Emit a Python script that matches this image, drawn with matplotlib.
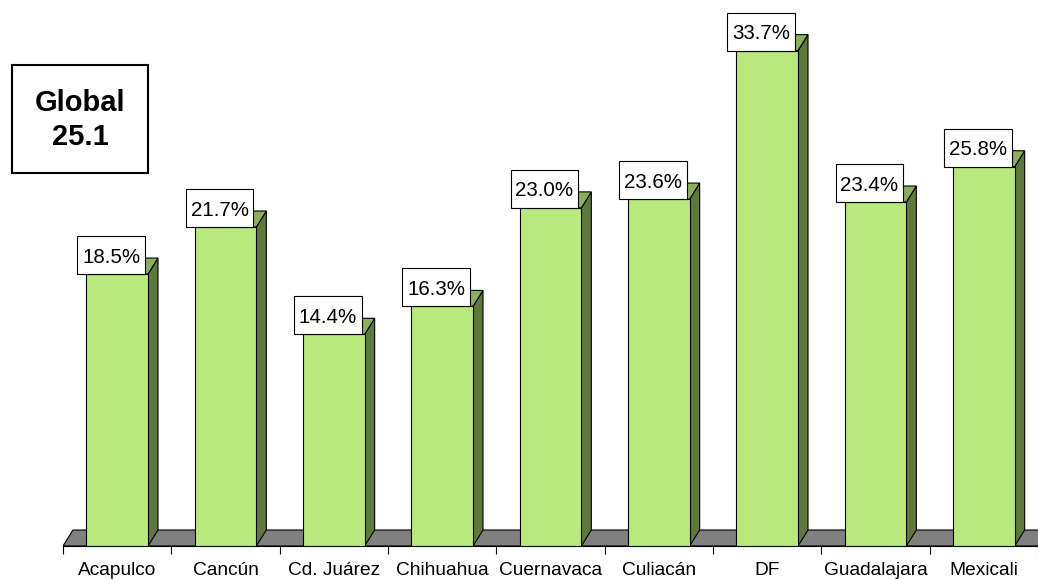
import matplotlib
matplotlib.use("Agg")
import matplotlib.pyplot as plt
from matplotlib.patches import Polygon, Rectangle

plt.rcParams['font.family'] = ['Liberation Sans', 'DejaVu Sans']

cities = ['Acapulco', 'Cancún', 'Cd. Juárez', 'Chihuahua', 'Cuernavaca',
          'Culiacán', 'DF', 'Guadalajara', 'Mexicali']
values = [18.5, 21.7, 14.4, 16.3, 23.0, 23.6, 33.7, 23.4, 25.8]
global_value = 25.1

front = '#B9E97D'
side = '#5E783E'
top = '#8CAF5A'
floor = '#808080'

W, H = 1038, 580
fig = plt.figure(figsize=(W / 100, H / 100), dpi=100)

# axes: left edge at the first boundary tick, bottom at the floor front line
px_cat = 108.8
x0_px, y0_px = 63, 546
xmax = -0.5 + (W - x0_px) / px_cat
ax = fig.add_axes([x0_px / W, 1 - y0_px / H, 1 - x0_px / W, y0_px / H])
px_val = 14.7
ax.set_xlim(-0.5, xmax)
ax.set_ylim(0, y0_px / px_val)

# 3d depth in data units
dx = 10 / px_cat
dy = 16 / px_val
bw = 0.57

ax.add_patch(Polygon([(-0.5, 0), (xmax + 1, 0), (xmax + 1 + dx, dy), (-0.5 + dx, dy)],
                     closed=True, fc=floor, ec='black', lw=0.8, zorder=1))

# label box size (pixels -> data)
lbw, lbh = 68 / px_cat, 38 / px_val
lshift = -6 / px_cat

for i, v in enumerate(values):
    xl, xr = i - bw / 2, i + bw / 2
    ax.add_patch(Polygon([(xr, 0), (xr + dx, dy), (xr + dx, v + dy), (xr, v)],
                         closed=True, fc=side, ec='black', lw=0.8, zorder=2))
    ax.add_patch(Polygon([(xl, v), (xr, v), (xr + dx, v + dy), (xl + dx, v + dy)],
                         closed=True, fc=top, ec='black', lw=0.8, zorder=2))
    ax.bar(i, v, width=bw, color=front, edgecolor='black', linewidth=0.8, zorder=3)
    cx = i + lshift
    ax.add_patch(Rectangle((cx - lbw / 2, v), lbw, lbh, fc='white', ec='black',
                           lw=0.8, zorder=4, clip_on=False))
    ax.text(cx, v + lbh / 2, f'{v:.1f}%', ha='center', va='center_baseline',
            fontsize=14.8, zorder=5)

for s in ['top', 'right', 'left']:
    ax.spines[s].set_visible(False)
ax.spines['bottom'].set_linewidth(0.8)
ax.set_yticks([])
ax.set_xticks(range(len(cities)))
ax.set_xticklabels(cities, fontsize=13.8)
ax.tick_params(axis='x', which='major', length=0, pad=11.5)
ax.set_xticks([i + 0.5 for i in range(-1, len(cities))], minor=True)
ax.tick_params(axis='x', which='minor', length=6, width=0.8)

# Global box
fig.patches.append(Rectangle((12 / W, 1 - 173 / H), 136 / W, 108 / H,
                             transform=fig.transFigure, fc='white', ec='black', lw=1.5))
fig.text(80 / W, 1 - 120 / H, f'Global\n{global_value}', ha='center', va='center',
         fontsize=21, fontweight='bold', linespacing=1.3)

fig.savefig('out.png', dpi=100)
